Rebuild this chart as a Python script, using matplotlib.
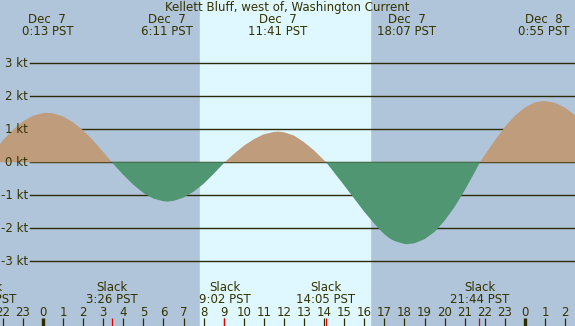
"""Tidal current chart: Kellett Bluff, west of, Washington, 7 Dec."""

import matplotlib
matplotlib.use("Agg")
import matplotlib.pyplot as plt
import numpy as np

TITLE = "Kellett Bluff, west of, Washington Current"

# Current speed (kt); hours from midnight Dec 7 (PST).
curve_hours = [-2.5, -2.14, -2.0, -1.5, -1.0, -0.5, 0.0, 0.217, 0.5, 1.0,
               1.5, 2.0, 2.5, 3.0, 3.433, 3.5, 4.0, 4.5, 5.0, 5.5,
               6.0, 6.183, 6.5, 7.0, 7.5, 8.0, 8.5, 9.0, 9.05, 9.5,
               10.0, 10.5, 11.0, 11.5, 11.7, 12.0, 12.5, 13.0, 13.5, 14.0,
               14.1, 14.5, 15.0, 15.5, 16.0, 16.5, 16.75, 17.0, 17.25, 17.5,
               18.0, 18.14, 18.5, 19.0, 19.5, 20.0, 20.5, 21.0, 21.5, 21.76,
               22.0, 22.5, 23.0, 23.5, 24.0, 24.5, 24.95, 25.5, 26.0, 26.5,
               27.0]
curve_speed = [0.30, 0.55, 0.66, 0.98, 1.24, 1.41, 1.49, 1.50, 1.48, 1.39,
               1.21, 0.97, 0.66, 0.31, 0.0, -0.05, -0.38, -0.68, -0.93, -1.10,
               -1.18, -1.19, -1.17, -1.07, -0.89, -0.65, -0.35, -0.03, 0.0, 0.25,
               0.50, 0.70, 0.85, 0.92, 0.93, 0.91, 0.81, 0.61, 0.36, 0.06,
               0.0, -0.31, -0.70, -1.10, -1.50, -1.86, -2.03, -2.18, -2.30, -2.385,
               -2.475, -2.48, -2.455, -2.33, -2.11, -1.77, -1.35, -0.85, -0.30, 0.0,
               0.22, 0.66, 1.07, 1.41, 1.66, 1.815, 1.86, 1.80, 1.655, 1.42,
               1.12]

# Maximum flood / ebb events (top labels)
peak_hours = [0.217, 6.183, 11.683, 18.117, 24.917]
peak_dates = ["Dec  7", "Dec  7", "Dec  7", "Dec  7", "Dec  8"]
peak_times = ["0:13 PST", "6:11 PST", "11:41 PST", "18:07 PST", "0:55 PST"]

# Slack water events (bottom labels)
slack_hours = [-2.8, 3.433, 9.033, 14.083, 21.733]
slack_times = ["21:12 PST", "3:26 PST", "9:02 PST", "14:05 PST", "21:44 PST"]

# Daylight (sunrise / sunset)
sunrise, sunset = 7.82, 16.28

speed_levels = [3, 2, 1, 0, -1, -2, -3]
hour_ticks = list(range(-2, 27))

W, H = 575, 326
TEXT = "#333300"
LINE = "#2b2b00"


def fy(py):
    """Pixel row from the top -> axes fraction."""
    return 1 - py / H


fig = plt.figure(figsize=(W / 100, H / 100), dpi=100)
ax = fig.add_axes([0, 0, 1, 1])
px_per_h = 20.08
x0 = 43
ax.set_xlim(-x0 / px_per_h, (W - x0) / px_per_h)
ax.set_ylim(-(H - 162.3) / 33, 162.3 / 33)
ax.axis("off")

ax.axvspan(-5, 30, color="#b0c4da", zorder=0)
ax.axvspan(sunrise, sunset, color="#dff7ff", zorder=0.5)

for lev in speed_levels:
    ax.axhline(lev, xmin=30 / W, xmax=1, color=LINE, lw=1.0, zorder=1)
    ax.text(28 / W, lev, f"{lev} kt", transform=ax.get_yaxis_transform(),
            ha="right", va="center", fontsize=8.5, color=TEXT)

hrs = np.array(curve_hours)
spd = np.array(curve_speed)
ax.fill_between(hrs, spd, 0, where=spd >= 0, interpolate=True,
                color="#bf9c7c", lw=0, zorder=2)
ax.fill_between(hrs, spd, 0, where=spd <= 0, interpolate=True,
                color="#519672", lw=0, zorder=2)

xt = ax.get_xaxis_transform()
ax.text(W / 2 / W, fy(7.5), TITLE, transform=ax.transAxes, ha="center",
        va="center", fontsize=8.5, color=TEXT)
for h, d, t in zip(peak_hours, peak_dates, peak_times):
    ax.text(h, fy(19.5), d, transform=xt, ha="center", va="center",
            fontsize=8.5, color=TEXT)
    ax.text(h, fy(31.5), t, transform=xt, ha="center", va="center",
            fontsize=8.5, color=TEXT)

for h, t in zip(slack_hours, slack_times):
    ax.text(h, fy(287.5), "Slack", transform=xt, ha="center", va="center",
            fontsize=8.5, color=TEXT)
    ax.text(h, fy(299.5), t, transform=xt, ha="center", va="center",
            fontsize=8.5, color=TEXT)
    ax.vlines(h, 0, fy(318), transform=xt, color="#e00000", lw=0.9, zorder=3)

for h in hour_ticks:
    ax.text(h, fy(312), str(h % 24), transform=xt, ha="center", va="center",
            fontsize=8.5, color=TEXT)
    midnight = h % 24 == 0
    ax.vlines(h, 0, fy(318), transform=xt, color=LINE,
              lw=2.4 if midnight else 0.9, zorder=2.5)

fig.savefig("out.png", dpi=100)
